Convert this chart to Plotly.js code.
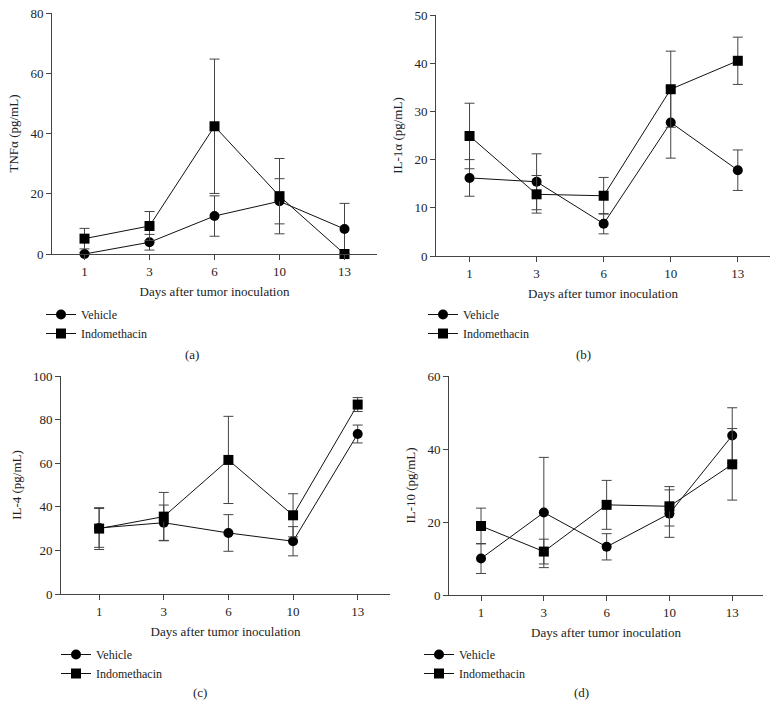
<!DOCTYPE html>
<html>
<head>
<meta charset="utf-8">
<script src="https://cdn.plot.ly/plotly-3.0.1.min.js"></script>
<style>html,body{margin:0;padding:0;background:#fff;}#chart{width:780px;height:706px;}</style>
</head>
<body>
<div id="chart"></div>
<script>
// ---- data ----
const days = ['1', '3', '6', '10', '13'];
const seriesNames = ['Vehicle', 'Indomethacin'];

const tnfVehicle = [0, 3.9, 12.6, 17.5, 8.3];
const tnfVehicleErr = [0.6, 2.6, 6.7, 7.5, 8.5];
const tnfIndo = [5.1, 9.3, 42.4, 19.2, 0];
const tnfIndoErr = [3.4, 4.8, 22.3, 12.5, 0];

const il1Vehicle = [16.2, 15.4, 6.7, 27.7, 17.8];
const il1VehicleErr = [3.8, 5.8, 2.1, 7.4, 4.2];
const il1Indo = [24.9, 12.8, 12.5, 34.6, 40.5];
const il1IndoErr = [6.8, 3.9, 3.8, 7.9, 4.9];

const il4Vehicle = [30.3, 32.7, 28.0, 24.2, 73.4];
const il4VehicleErr = [8.9, 8.1, 8.4, 6.7, 4.1];
const il4Indo = [30.0, 35.5, 61.5, 36.1, 86.9];
const il4IndoErr = [9.6, 11.1, 20.0, 9.9, 3.2];

const il10Vehicle = [10.0, 22.6, 13.2, 22.3, 43.7];
const il10VehicleErr = [4.1, 15.1, 3.6, 6.5, 7.6];
const il10Indo = [18.9, 11.9, 24.7, 24.3, 35.8];
const il10IndoErr = [4.9, 3.4, 6.7, 5.4, 9.8];

const yTitles = ['TNF\u03b1 (pg/mL)', 'IL-1\u03b1 (pg/mL)', 'IL-4 (pg/mL)', 'IL-10 (pg/mL)'];
const xTitle = 'Days after tumor inoculation';
const captions = ['(a)', '(b)', '(c)', '(d)'];

// ---- build ----
const FONT = "'Liberation Serif', 'Times New Roman', serif";
const panels = [
  {v: tnfVehicle, ve: tnfVehicleErr, d: tnfIndo, de: tnfIndoErr},
  {v: il1Vehicle, ve: il1VehicleErr, d: il1Indo, de: il1IndoErr},
  {v: il4Vehicle, ve: il4VehicleErr, d: il4Indo, de: il4IndoErr},
  {v: il10Vehicle, ve: il10VehicleErr, d: il10Indo, de: il10IndoErr}
];
const W = 780, H = 706;
const geom = [
  {x0: 52, x1: 377, y0: 13, y1: 254, xr: [-0.5, 4.5], yr: [0, 80], dt: 20, lg: [41, 300], cap: [192, 354]},
  {x0: 436, x1: 770, y0: 15, y1: 256, xr: [-0.5, 4.48], yr: [0, 50], dt: 10, lg: [423, 300], cap: [583, 354]},
  {x0: 61, x1: 390, y0: 376, y1: 594, xr: [-0.59, 4.5], yr: [0, 100], dt: 20, lg: [56, 640], cap: [200, 692]},
  {x0: 449, x1: 763, y0: 376, y1: 595, xr: [-0.51, 4.49], yr: [0, 60], dt: 20, lg: [419, 640], cap: [581, 692]}
];

const traces = [];
const layout = {
  width: W, height: H, autosize: false,
  margin: {l: 0, r: 0, t: 0, b: 0},
  paper_bgcolor: '#fff', plot_bgcolor: '#fff',
  font: {family: FONT, size: 13, color: '#222'},
  showlegend: true,
  annotations: []
};
const symbols = ['circle', 'square'];

panels.forEach((p, i) => {
  const n = i + 1;
  const xa = n === 1 ? 'x' : 'x' + n;
  const ya = n === 1 ? 'y' : 'y' + n;
  const lg = n === 1 ? 'legend' : 'legend' + n;
  const g = geom[i];
  [[p.v, p.ve], [p.d, p.de]].forEach((s, k) => {
    traces.push({
      type: 'scatter', mode: 'lines+markers',
      x: days, y: s[0], name: seriesNames[k],
      xaxis: xa, yaxis: ya, legend: lg,
      cliponaxis: false,
      line: {color: '#111', width: 1},
      marker: {symbol: symbols[k], size: 10, color: '#000'},
      error_y: {type: 'data', array: s[1], visible: true, color: '#444', thickness: 1, width: 5}
    });
  });
  const axCommon = {
    showline: true, linecolor: '#444', linewidth: 1,
    ticks: 'outside', ticklen: 5, tickcolor: '#444', tickwidth: 1,
    showgrid: false, zeroline: false, fixedrange: true,
    tickfont: {family: FONT, size: 13, color: '#222'}
  };
  layout['xaxis' + (n === 1 ? '' : n)] = Object.assign({}, axCommon, {
    type: 'category', anchor: ya,
    domain: [g.x0 / W, g.x1 / W], range: g.xr,
    title: {text: xTitle, standoff: 9, font: {family: FONT, size: 13, color: '#222'}}
  });
  layout['yaxis' + (n === 1 ? '' : n)] = Object.assign({}, axCommon, {
    anchor: xa,
    domain: [1 - g.y1 / H, 1 - g.y0 / H], range: g.yr, dtick: g.dt,
    title: {text: yTitles[i], standoff: 8, font: {family: FONT, size: 13, color: '#222'}}
  });
  layout[lg] = {
    x: g.lg[0] / W, y: 1 - g.lg[1] / H, xanchor: 'left', yanchor: 'top',
    bgcolor: 'rgba(0,0,0,0)', borderwidth: 0,
    font: {family: FONT, size: 12, color: '#222'},
    tracegroupgap: 0
  };
  layout.annotations.push({
    text: captions[i], xref: 'paper', yref: 'paper',
    x: g.cap[0] / W, y: 1 - g.cap[1] / H, xanchor: 'center', yanchor: 'middle',
    showarrow: false, font: {family: FONT, size: 13, color: '#222'}
  });
});

Plotly.newPlot('chart', traces, layout, {displayModeBar: false, staticPlot: true});
</script>
</body>
</html>
